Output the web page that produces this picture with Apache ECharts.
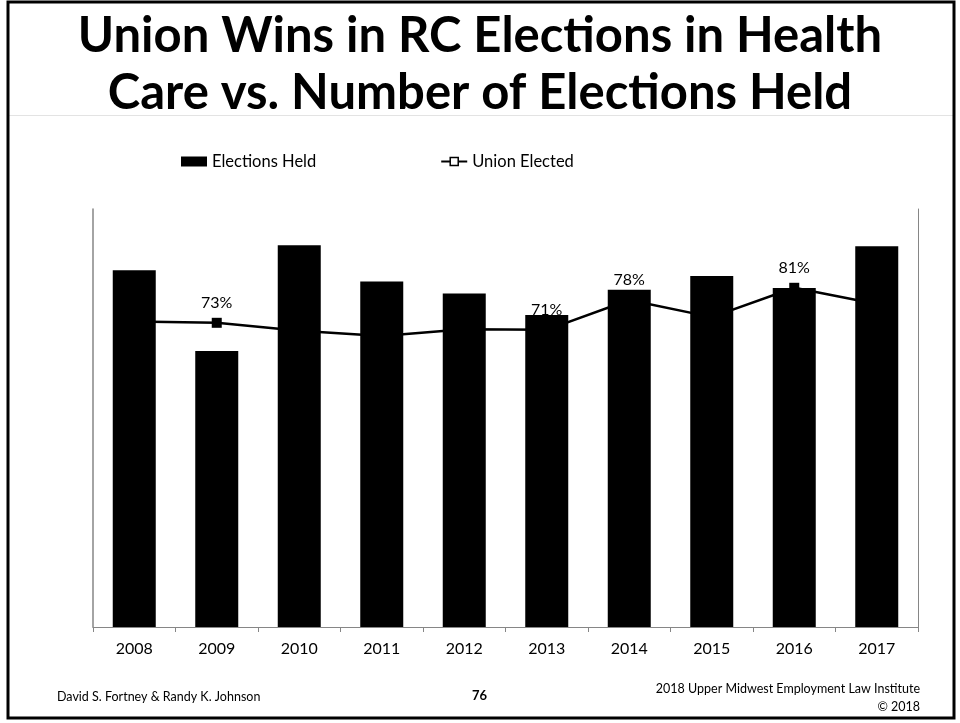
<!DOCTYPE html>
<html>
<head>
<meta charset="utf-8">
<title>Union Wins in RC Elections in Health Care</title>
<script src="https://cdn.jsdelivr.net/npm/echarts@6/dist/echarts.min.js"></script>
<style>
  html, body { margin: 0; padding: 0; background: #fff; }
  #chart { width: 960px; height: 723px; }
</style>
</head>
<body>
<div id="chart"></div>
<script>
// Fiscal years shown on the category axis
var years = ['2008', '2009', '2010', '2011', '2012', '2013', '2014', '2015', '2016', '2017'];

// RC elections held in health care each year (bars)
var electionsHeld = [384, 297, 411, 372, 359, 336, 363, 378, 365, 410];

// Share of those elections won by the union, in percent (line)
var unionElected = [73.3, 73.0, 71.2, 70.0, 71.5, 71.4, 78.2, 74.3, 81.0, 77.3];

// Years whose win rate is printed above the point
var labelledYears = ['2009', '2013', '2014', '2016'];

var FONT = 'Lato, "Open Sans", sans-serif';

var lineData = unionElected.map(function (v, i) {
  var item = { value: v };
  if (labelledYears.indexOf(years[i]) >= 0) {
    item.label = { show: true };
  }
  return item;
});

var chart = echarts.init(document.getElementById('chart'), null, { renderer: 'canvas' });

chart.setOption({
  animation: false,
  backgroundColor: '#ffffff',
  title: {
    text: 'Union Wins in RC Elections in Health\nCare vs. Number of Elections Held',
    left: 'center',
    top: 3,
    textStyle: {
      fontFamily: FONT,
      fontWeight: 'bold',
      fontSize: 49,
      lineHeight: 57,
      color: '#000'
    }
  },
  legend: {
    left: 181,
    top: 153,
    padding: 0,
    itemGap: 124,
    itemWidth: 26,
    itemHeight: 10,
    textStyle: { fontFamily: FONT, fontSize: 16.5, color: '#000' },
    data: [
      { name: 'Elections Held', icon: 'rect' },
      { name: 'Union Elected', itemStyle: { color: '#fff', borderColor: '#000', borderWidth: 1.5 } }
    ]
  },
  grid: { left: 93, right: 42, top: 209, bottom: 96, containLabel: false },
  xAxis: {
    type: 'category',
    data: years,
    boundaryGap: true,
    axisLine: { show: true, lineStyle: { color: '#868686', width: 1 } },
    axisTick: { show: true, interval: 0, length: 5, lineStyle: { color: '#868686' } },
    axisLabel: { color: '#000', fontFamily: FONT, fontSize: 16, margin: 14 },
    splitLine: { show: false }
  },
  yAxis: [
    {
      type: 'value',
      min: 0,
      max: 450,
      axisLine: { show: true, lineStyle: { color: '#868686', width: 1.5 } },
      axisTick: { show: false },
      axisLabel: { show: false },
      splitLine: { show: false }
    },
    {
      type: 'value',
      min: 3.5,
      max: 99,
      position: 'right',
      axisLine: { show: true, lineStyle: { color: '#868686', width: 1 } },
      axisTick: { show: false },
      axisLabel: { show: false },
      splitLine: { show: false }
    }
  ],
  series: [
    {
      name: 'Elections Held',
      type: 'bar',
      yAxisIndex: 0,
      data: electionsHeld,
      barWidth: 43,
      z: 3,
      itemStyle: { color: '#000' }
    },
    {
      name: 'Union Elected',
      type: 'line',
      yAxisIndex: 1,
      data: lineData,
      z: 2,
      symbol: 'rect',
      symbolSize: 10,
      showAllSymbol: true,
      lineStyle: { color: '#000', width: 2.5 },
      itemStyle: { color: '#000' },
      label: {
        show: false,
        position: 'top',
        distance: 7,
        fontFamily: FONT,
        fontSize: 16,
        color: '#000',
        formatter: function (p) { return Math.round(p.value) + '%'; }
      }
    }
  ],
  graphic: [
    {
      type: 'rect',
      silent: true,
      shape: { x: 8, y: 2, width: 946, height: 716 },
      style: { fill: 'none', stroke: '#000', lineWidth: 3 },
      z: 100
    },
    {
      type: 'line',
      silent: true,
      shape: { x1: 9, y1: 115.5, x2: 953, y2: 115.5 },
      style: { stroke: '#e3e3e3', lineWidth: 1 }
    },
    {
      type: 'text',
      left: 57,
      top: 690,
      style: { text: 'David S. Fortney & Randy K. Johnson', font: '12.5px ' + FONT, fill: '#000' }
    },
    {
      type: 'text',
      left: 472,
      top: 689,
      style: { text: '76', font: 'bold 13px ' + FONT, fill: '#000' }
    },
    {
      type: 'text',
      right: 40,
      top: 682,
      style: { text: '2018 Upper Midwest Employment Law Institute', font: '12.5px ' + FONT, fill: '#000', align: 'right' }
    },
    {
      type: 'text',
      right: 40,
      top: 700,
      style: { text: '\u00a9 2018', font: '12.5px ' + FONT, fill: '#000', align: 'right' }
    }
  ]
});
</script>
</body>
</html>
